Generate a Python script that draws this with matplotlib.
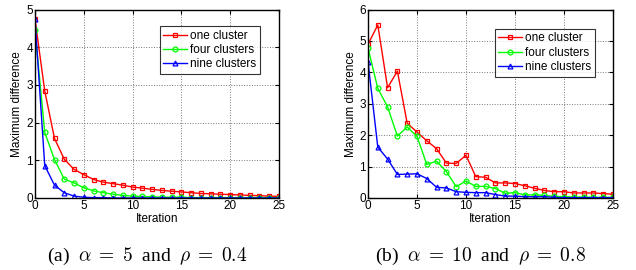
import numpy as np
import matplotlib.pyplot as plt

plt.rcParams['font.family'] = ['Liberation Sans', 'DejaVu Sans']
plt.rcParams['mathtext.fontset'] = 'cm'

iteraciones = np.arange(26)

# (a) alpha = 5, rho = 0.4
uno_a = [4.75, 2.84, 1.58, 1.03, 0.76, 0.62, 0.49, 0.42, 0.38, 0.34, 0.29, 0.26, 0.23,
         0.20, 0.18, 0.16, 0.14, 0.12, 0.11, 0.10, 0.09, 0.08, 0.07, 0.06, 0.05, 0.04]
cuatro_a = [4.45, 1.74, 1.02, 0.50, 0.40, 0.27, 0.19, 0.14, 0.10, 0.07, 0.05, 0.04, 0.03,
            0.02, 0.02, 0.02, 0.01, 0.01, 0.01, 0.01, 0.01, 0.01, 0.01, 0.01, 0.01, 0.01]
nueve_a = [4.75, 0.86, 0.34, 0.14, 0.05, 0.02, 0.01, 0.01, 0.0, 0.0, 0.0, 0.0, 0.0,
           0.0, 0.0, 0.0, 0.0, 0.0, 0.0, 0.0, 0.0, 0.0, 0.0, 0.0, 0.0, 0.0]

# (b) alpha = 10, rho = 0.8
uno_b = [4.89, 5.51, 3.51, 4.04, 2.38, 2.10, 1.82, 1.57, 1.11, 1.10, 1.36, 0.68, 0.66,
         0.48, 0.48, 0.46, 0.39, 0.31, 0.24, 0.20, 0.20, 0.16, 0.16, 0.16, 0.14, 0.12]
cuatro_b = [4.78, 3.49, 2.90, 1.97, 2.26, 1.96, 1.07, 1.17, 0.84, 0.36, 0.54, 0.37, 0.37,
            0.30, 0.15, 0.17, 0.10, 0.10, 0.08, 0.05, 0.04, 0.03, 0.03, 0.02, 0.02, 0.02]
nueve_b = [4.34, 1.62, 1.24, 0.75, 0.76, 0.77, 0.62, 0.34, 0.32, 0.20, 0.18, 0.17, 0.17,
           0.11, 0.06, 0.06, 0.04, 0.04, 0.04, 0.02, 0.01, 0.01, 0.01, 0.01, 0.01, 0.01]

etiquetas = ['one cluster', 'four clusters', 'nine clusters']
colores = ['#ff0000', '#00ff00', '#0000ff']
marcadores = ['s', 'o', '^']

fig = plt.figure(figsize=(6.36, 2.70), dpi=100)
ax1 = fig.add_axes([0.055, 0.2667, 0.3837, 0.698])
ax2 = fig.add_axes([0.5786, 0.2667, 0.3852, 0.698])

paneles = [
    (ax1, [uno_a, cuatro_a, nueve_a], 5, (0.922, 0.912), 0.2315,
     r'(a)  $\alpha\;=\;5$  and  $\rho\;=\;0.4$'),
    (ax2, [uno_b, cuatro_b, nueve_b], 6, (0.927, 0.897), 0.755,
     r'(b)  $\alpha\;=\;10$  and  $\rho\;=\;0.8$'),
]

for ax, series, ymax, ancla, xcap, titulo in paneles:
    for datos, lab, col, mk in zip(series, etiquetas, colores, marcadores):
        ax.plot(iteraciones, datos, color=col, marker=mk, markersize=3.5,
                markerfacecolor='none', markeredgewidth=0.9, linewidth=1.0, label=lab)
    ax.set_xlim(0, 25)
    ax.set_ylim(0, ymax)
    ax.set_xticks(range(0, 26, 5))
    ax.set_yticks(range(0, ymax + 1))
    ax.grid(True, linestyle=':', color='#777777', linewidth=0.7)
    ax.tick_params(direction='in', top=True, right=True, labelsize=8.5, length=3, pad=1.5)
    for s in ax.spines.values():
        s.set_linewidth(1.0)
    ax.set_xlabel('Iteration', fontsize=8.5, labelpad=1)
    ax.set_ylabel('Maximum difference', fontsize=8.5, labelpad=2)
    leg = ax.legend(loc='upper right', bbox_to_anchor=ancla, fontsize=8.5, frameon=True,
                    fancybox=False, edgecolor='black', handlelength=2.0,
                    borderpad=0.3, labelspacing=0.2, handletextpad=0.3, borderaxespad=0)
    leg.get_frame().set_linewidth(0.8)
    fig.text(xcap, 1 - 256 / 270, titulo, ha='center', va='center', fontsize=14,
             family='Liberation Serif')

fig.savefig('out.png', dpi=100)
